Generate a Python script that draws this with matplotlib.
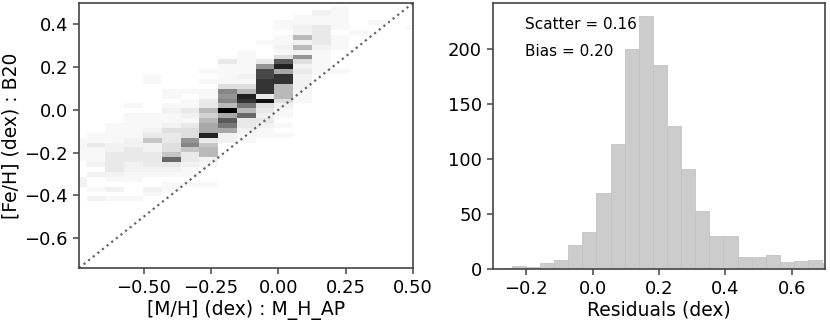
import numpy as np
import matplotlib
matplotlib.use("Agg")
import matplotlib.pyplot as plt

# 2D histogram of [Fe/H] (B20) vs [M/H] (M_H_AP), counts
# columns: x bins starting at X_START, width X_STEP
X_START = -0.7813
X_STEP = 0.0697
# rows: y bins starting at Y_START, width Y_STEP, listed top row first
Y_START = -0.428
Y_STEP = 0.0229

counts_top_down = [
    # c0 c1 c2 c3 c4 c5 c6 c7 c8 c9 c10 c11 c12 c13 c14 c15 c16 c17 c18
    [0, 0, 0, 0, 0, 0, 0, 0, 0, 0, 0, 0, 0, 0, 1, 0, 0, 0, 0],    # 39
    [0, 0, 0, 0, 0, 0, 0, 0, 0, 0, 0, 0, 0, 2, 1, 0, 0, 0, 0],    # 38
    [0, 0, 0, 0, 0, 0, 0, 0, 0, 0, 0, 0, 1, 1, 1, 0, 0, 0, 0],    # 37
    [0, 0, 0, 0, 0, 0, 0, 0, 0, 0, 0, 1, 1, 1, 1, 0, 1, 0, 0],    # 36
    [0, 0, 0, 0, 0, 0, 0, 0, 0, 0, 0, 1, 2, 3, 1, 0, 0, 0, 1],    # 35
    [0, 0, 0, 0, 0, 0, 0, 0, 0, 0, 0, 0, 2, 3, 0, 1, 0, 0, 0],    # 34
    [0, 0, 0, 0, 0, 0, 0, 0, 0, 0, 0, 1, 7, 3, 1, 0, 0, 0, 0],    # 33
    [0, 0, 0, 0, 0, 0, 0, 0, 0, 0, 1, 1, 2, 3, 1, 0, 0, 0, 0],    # 32
    [0, 0, 0, 0, 0, 0, 0, 0, 0, 0, 0, 2, 7, 2, 1, 0, 0, 0, 0],    # 31
    [0, 0, 0, 0, 0, 0, 0, 0, 0, 1, 0, 1, 2, 1, 0, 0, 0, 0, 0],    # 30
    [0, 0, 0, 0, 0, 0, 0, 0, 0, 1, 0, 4, 9, 1, 0, 0, 0, 0, 0],    # 29
    [0, 0, 0, 0, 0, 0, 0, 0, 3, 1, 3, 13, 4, 1, 0, 0, 0, 0, 0],   # 28
    [0, 0, 0, 0, 0, 0, 0, 0, 1, 1, 9, 16, 2, 1, 0, 0, 0, 0, 0],   # 27
    [0, 0, 0, 0, 0, 0, 0, 1, 1, 1, 14, 8, 3, 1, 1, 0, 0, 0, 0],   # 26
    [0, 0, 0, 0, 1, 0, 0, 0, 1, 2, 14, 15, 2, 0, 0, 0, 0, 0, 0],  # 25
    [0, 0, 0, 0, 1, 0, 0, 1, 1, 1, 15, 15, 2, 0, 0, 0, 0, 0, 0],  # 24
    [0, 0, 0, 0, 0, 0, 0, 0, 4, 4, 15, 7, 2, 0, 0, 0, 0, 0, 0],   # 23
    [0, 0, 0, 0, 0, 1, 1, 1, 10, 7, 15, 7, 1, 0, 0, 0, 0, 0, 0],  # 22
    [0, 0, 0, 0, 0, 1, 0, 1, 9, 16, 3, 7, 1, 0, 0, 0, 0, 0, 0],   # 21
    [0, 0, 0, 0, 0, 0, 1, 3, 10, 15, 17, 4, 1, 0, 0, 0, 0, 0, 0], # 20
    [0, 0, 0, 1, 0, 1, 1, 3, 7, 11, 4, 2, 0, 0, 0, 0, 0, 0, 0],   # 19
    [0, 0, 0, 0, 0, 2, 3, 7, 18, 7, 3, 1, 0, 0, 0, 0, 0, 0, 0],   # 18
    [0, 0, 0, 1, 1, 1, 2, 5, 8, 12, 2, 1, 0, 0, 0, 0, 0, 0, 0],   # 17
    [0, 0, 0, 1, 1, 1, 1, 7, 13, 3, 3, 0, 0, 0, 0, 0, 0, 0, 0],   # 16
    [0, 0, 1, 1, 1, 2, 3, 8, 11, 3, 2, 1, 0, 0, 0, 0, 0, 0, 0],   # 15
    [0, 0, 1, 1, 2, 4, 4, 8, 8, 2, 1, 0, 0, 0, 0, 0, 0, 0, 0],    # 14
    [0, 1, 1, 1, 3, 3, 4, 16, 2, 1, 1, 1, 0, 0, 0, 0, 0, 0, 0],   # 13
    [1, 1, 1, 2, 6, 3, 9, 3, 2, 1, 0, 0, 0, 0, 0, 0, 0, 0, 0],    # 12
    [1, 3, 2, 2, 2, 4, 10, 6, 0, 0, 0, 0, 0, 0, 0, 0, 0, 0, 0],   # 11
    [1, 1, 2, 3, 2, 4, 6, 7, 0, 0, 0, 0, 0, 0, 0, 0, 0, 0, 0],    # 10
    [1, 1, 3, 3, 3, 6, 3, 7, 0, 0, 0, 0, 0, 0, 0, 0, 0, 0, 0],    # 9
    [1, 1, 3, 3, 3, 12, 3, 2, 0, 0, 0, 0, 0, 0, 0, 0, 0, 0, 0],   # 8
    [0, 2, 3, 2, 3, 3, 2, 1, 0, 0, 0, 0, 0, 0, 0, 0, 0, 0, 0],    # 7
    [0, 0, 3, 2, 2, 2, 1, 0, 0, 0, 0, 0, 0, 0, 0, 0, 0, 0, 0],    # 6
    [0, 2, 2, 1, 1, 1, 1, 0, 0, 0, 0, 0, 0, 0, 0, 0, 0, 0, 0],    # 5
    [2, 0, 1, 1, 0, 0, 0, 0, 0, 0, 0, 0, 0, 0, 0, 0, 0, 0, 0],    # 4
    [2, 0, 0, 0, 0, 1, 1, 1, 0, 0, 0, 0, 0, 0, 0, 0, 0, 0, 0],    # 3
    [0, 1, 2, 0, 2, 1, 0, 0, 0, 0, 0, 0, 0, 0, 0, 0, 0, 0, 0],    # 2
    [0, 0, 0, 0, 1, 0, 0, 0, 0, 0, 0, 0, 0, 0, 0, 0, 0, 0, 0],    # 1
    [0, 2, 1, 1, 0, 0, 0, 0, 0, 0, 0, 0, 0, 0, 0, 0, 0, 0, 0],    # 0
]

# residual histogram
RES_START = -0.286
RES_STEP = 0.0425
res_counts = [1, 3, 2, 5, 8, 22, 34, 69, 114, 200, 230, 186, 130, 91, 53,
              30, 30, 11, 11, 13, 6, 7, 8, 5]

scatter_val = 0.16
bias_val = 0.20

H = np.array(counts_top_down[::-1], dtype=float)
nrow, ncol = H.shape
xedges = X_START + X_STEP * np.arange(ncol + 1)
yedges = Y_START + Y_STEP * np.arange(nrow + 1)

fig = plt.figure(figsize=(8.3, 3.23), dpi=100)
ax1 = fig.add_axes([0.0952, 0.1703, 0.4024, 0.8204])
ax2 = fig.add_axes([0.594, 0.1672, 0.400, 0.8235])

ax1.pcolormesh(xedges, yedges, H, cmap='Greys', vmin=0, vmax=H.max())
lim = (-0.74, 0.5)
ax1.plot(lim, lim, ls=':', color='0.4', lw=1.6)
ax1.set_xlim(lim)
ax1.set_ylim(lim)
ax1.set_xticks([-0.5, -0.25, 0.0, 0.25, 0.5])
ax1.set_yticks([-0.6, -0.4, -0.2, 0.0, 0.2, 0.4])
ax1.set_xlabel('[M/H] (dex) : M_H_AP', fontsize=13.5, labelpad=2)
ax1.set_ylabel('[Fe/H] (dex) : B20', fontsize=13.5, labelpad=3)

redges = RES_START + RES_STEP * np.arange(len(res_counts) + 1)
rcent = 0.5 * (redges[:-1] + redges[1:])
ax2.hist(rcent, bins=redges, weights=res_counts, color='#cccccc',
         edgecolor='#c4c4c4', linewidth=0.6)
ax2.set_xlim(-0.3, 0.7)
ax2.set_ylim(0, 242)
ax2.set_xticks([-0.2, 0.0, 0.2, 0.4, 0.6])
ax2.set_yticks([0, 50, 100, 150, 200])
ax2.set_xlabel('Residuals (dex)', fontsize=13.5, labelpad=2)
ax2.text(0.096, 0.918, 'Scatter = %.2f' % scatter_val, transform=ax2.transAxes,
         fontsize=11, va='center')
ax2.text(0.096, 0.816, 'Bias = %.2f' % bias_val, transform=ax2.transAxes,
         fontsize=11, va='center')

for ax in (ax1, ax2):
    for sp in ax.spines.values():
        sp.set_color('#444444')
        sp.set_linewidth(1.2)
    ax.tick_params(labelsize=13, color='#444444', width=1.1, length=4.5)

fig.savefig('out.png', dpi=100)
